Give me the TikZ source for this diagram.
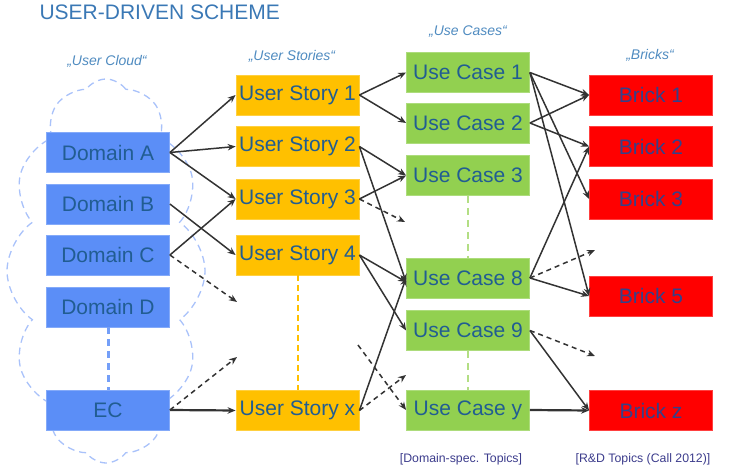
\documentclass[tikz,border=0pt]{standalone}
\usepackage{fontspec}
\setmainfont{Liberation Sans}
\usetikzlibrary{arrows.meta,shapes.symbols}

\definecolor{titleblue}{HTML}{3A78B5}
\definecolor{headblue}{HTML}{4F8BC0}
\definecolor{boxtext}{HTML}{215D92}
\definecolor{bricktext}{HTML}{34418A}
\definecolor{domainblue}{HTML}{5B8EF7}
\definecolor{storyyellow}{HTML}{FFC000}
\definecolor{casegreen}{HTML}{92D050}
\definecolor{brickred}{HTML}{FF0000}
\definecolor{cloudblue}{HTML}{A9C2FA}
\definecolor{linkgray}{HTML}{333333}
\definecolor{topicblue}{HTML}{3C3C8C}

\begin{document}
\begin{tikzpicture}[x=1pt,y=-1pt,
  box/.style={draw=#1!75!white, line width=0.8pt, fill=#1,
    minimum width=123pt, minimum height=40pt, inner sep=0pt,
    text=boxtext, font=\fontsize{21}{25}\selectfont},
  brick/.style={box=brickred, text=bricktext},
  header/.style={text=headblue, font=\fontsize{14}{16}\selectfont\itshape},
  topic/.style={text=topicblue, font=\fontsize{12.3}{14}\selectfont},
  link/.style={draw=linkgray, line width=1.5pt, -{Stealth[length=8pt,width=6.5pt]}},
  dlink/.style={link, dash pattern=on 5pt off 4pt},
  thick link/.style={link, line width=2.2pt}
]
\useasboundingbox (0,0) rectangle (737,470);

% the user cloud behind the domains
\node[cloud, cloud puffs=12, cloud puff arc=110, aspect=0.52,
      draw=cloudblue, line width=1.3pt, dash pattern=on 7pt off 5pt,
      minimum width=198pt, minimum height=384pt, inner sep=0pt]
      (cloud) at (106,271) {};

% title and column headings
\node[anchor=west, text=titleblue, font=\fontsize{21}{25}\selectfont] (title) at (36,12.5) {USER-DRIVEN SCHEME};
\node[header] (hcloud)   at (107,61) {„User Cloud“};
\node[header] (hstories) at (292,56) {„User Stories“};
\node[header] (hcases)   at (468,32) {„Use Cases“};
\node[header] (hbricks)  at (650,55) {„Bricks“};

% domains
\node[box=domainblue] (A)  at (108,152.5) {Domain A};
\node[box=domainblue] (B)  at (108,204)   {Domain B};
\node[box=domainblue] (C)  at (108,255)   {Domain C};
\node[box=domainblue] (D)  at (108,307)   {Domain D};
\node[box=domainblue] (EC) at (108,410)   {EC};

% user stories
\node[box=storyyellow] (US1) at (297.5,95)    {User Story 1};
\node[box=storyyellow] (US2) at (297.5,146.5) {User Story 2};
\node[box=storyyellow] (US3) at (297.5,199)   {User Story 3};
\node[box=storyyellow] (US4) at (297.5,255)   {User Story 4};
\node[box=storyyellow] (USx) at (297.5,410.5) {User Story x};

% use cases
\node[box=casegreen] (UC1) at (468,72.5)  {Use Case 1};
\node[box=casegreen] (UC2) at (468,123)   {Use Case 2};
\node[box=casegreen] (UC3) at (468,175.5) {Use Case 3};
\node[box=casegreen] (UC8) at (468,278)   {Use Case 8};
\node[box=casegreen] (UC9) at (468,330.5) {Use Case 9};
\node[box=casegreen] (UCy) at (468,410)   {Use Case y};

% bricks
\node[brick] (B1) at (651,95)    {Brick 1};
\node[brick] (B2) at (651,146.5) {Brick 2};
\node[brick] (B3) at (651,199)   {Brick 3};
\node[brick] (B5) at (651,296)   {Brick 5};
\node[brick] (Bz) at (651,410.5) {Brick z};

% topic labels
\node[topic] (tdomain) at (461,459) {[Domain-spec. Topics]};
\node[topic] (trd)     at (643,459) {[R\&D Topics (Call 2012)]};

% "and so on" gaps in each column
\draw[draw=domainblue!85!white, line width=3pt, dash pattern=on 7pt off 5pt] (D.south) -- (EC.north);
\draw[draw=storyyellow, line width=2pt, dash pattern=on 6pt off 4pt] (US4.south) -- (USx.north);
\draw[draw=casegreen!70!white, line width=2.5pt, dash pattern=on 7pt off 5pt] (UC3.south) -- (UC8.north);
\draw[draw=casegreen!70!white, line width=2.5pt, dash pattern=on 7pt off 5pt] (UC9.south) -- (UCy.north);

% loose ends of the open-ended links
\coordinate (oC)   at (237,302);
\coordinate (oEC)  at (237,357);
\coordinate (oUS3) at (405,222);
\coordinate (oUSx) at (406,375);
\coordinate (iUCy) at (358,345);
\coordinate (oUC8) at (595,250);
\coordinate (oUC9) at (595,356);

% domains -> user stories
\draw[link] (A.east) -- (US1.west);
\draw[link] (A.east) -- (US2.west);
\draw[link] (A.east) -- (US3.west);
\draw[link] (B.east) -- (US4.west);
\draw[link] (C.east) -- (US3.west);
\draw[dlink] (C.east) -- (oC);
\draw[thick link] (EC.east) -- (USx.west);
\draw[dlink] (EC.east) -- (oEC);

% user stories -> use cases
\draw[link] (US1.east) -- (UC1.west);
\draw[link] (US1.east) -- (UC2.west);
\draw[link] (US2.east) -- (UC3.west);
\draw[link] (US2.east) -- ([yshift=-4pt]UC8.west);
\draw[link] (US3.east) -- (UC3.west);
\draw[dlink] (US3.east) -- (oUS3);
\draw[link] (US4.east) -- ([yshift=-4pt]UC8.west);
\draw[link] (US4.east) -- (UC9.west);
\draw[link] (USx.east) -- (UC8.west);
\draw[dlink] (USx.east) -- (oUSx);
\draw[dlink] (iUCy) -- (UCy.west);

% use cases -> bricks
\draw[link] (UC1.east) -- (B1.west);
\draw[link] (UC1.east) -- (B3.west);
\draw[link] (UC1.east) -- (B5.west);
\draw[link] (UC2.east) -- (B1.west);
\draw[link] (UC2.east) -- (B2.west);
\draw[link] (UC8.east) -- (B2.west);
\draw[dlink] (UC8.east) -- (oUC8);
\draw[link] (UC8.east) -- (B5.west);
\draw[dlink] (UC9.east) -- (oUC9);
\draw[link] (UC9.east) -- (Bz.west);
\draw[thick link] (UCy.east) -- (Bz.west);
\end{tikzpicture}
\end{document}
